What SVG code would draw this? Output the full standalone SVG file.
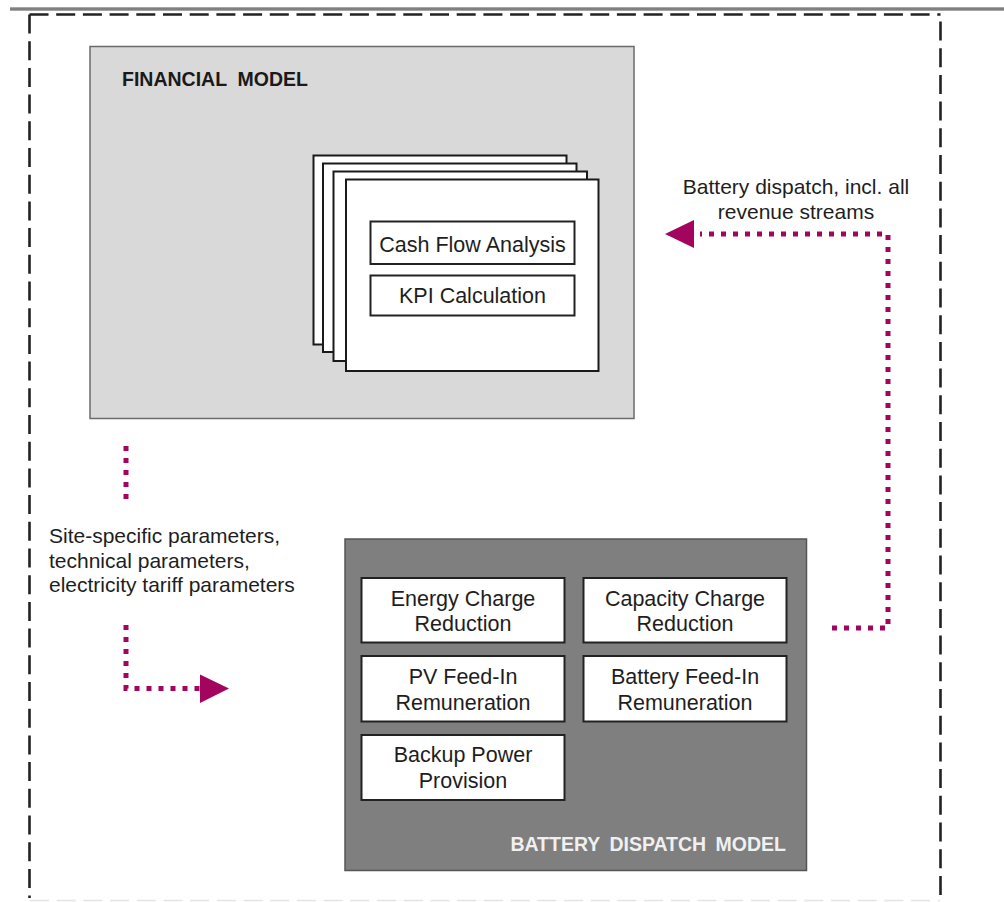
<svg xmlns="http://www.w3.org/2000/svg" width="1004" height="902" viewBox="0 0 1004 902">
  <style>
    .lbl { font-family: "Liberation Sans", Arial, sans-serif; font-size: 21px; fill: #1e1e1e; }
    .inner { font-size: 21.5px; }
    .mid { text-anchor: middle; }
    .title { font-family: "Liberation Sans", Arial, sans-serif; font-size: 19.5px; font-weight: bold; }
    .box { fill: #ffffff; stroke: #222222; stroke-width: 2; }
    .page { fill: #ffffff; stroke: #1a1a1a; stroke-width: 2; }
    .frame { stroke: #222222; stroke-width: 2.6; fill: none; stroke-dasharray: 19 7.7; }
    .flow { fill: none; stroke: #a3045e; stroke-width: 5; stroke-dasharray: 5 7; }
    .head { fill: #a3045e; }
  </style>

  <!-- header rule -->
  <rect x="10" y="7.3" width="994" height="3.4" fill="#808080"/>

  <!-- dashed outer frame -->
  <g id="frame">
    <path class="frame" d="M29.5,14.5 H940.5"/>
    <path class="frame" d="M29.5,14.5 V898"/>
    <path class="frame" d="M940.5,14.5 V898" style="stroke-dashoffset:-7"/>
    <path d="M30,900.5 H940" stroke="#e4e4e4" stroke-width="1.5" stroke-dasharray="19 7.7" fill="none"/>
  </g>

  <!-- financial model -->
  <g id="financial-model">
    <rect x="90" y="46.5" width="544" height="372" fill="#d9d9d9" stroke="#6b6b6b" stroke-width="1.5"/>
    <text class="title" x="122" y="86" fill="#1a1a1a" xml:space="preserve">FINANCIAL  MODEL</text>
  </g>

  <!-- stacked sheets -->
  <g id="sheets">
    <rect class="page" x="313.5" y="155.5" width="253" height="189"/>
    <rect class="page" x="323" y="163.5" width="253.5" height="188.5"/>
    <rect class="page" x="333.5" y="171.5" width="253.5" height="189.5"/>
    <rect class="page" x="346" y="179.5" width="252.5" height="191.5"/>
  </g>

  <g id="cash-flow-analysis">
    <rect class="box" x="370.5" y="221.5" width="204" height="42.5"/>
    <text class="lbl inner mid" x="472.5" y="251.5">Cash Flow Analysis</text>
  </g>

  <g id="kpi-calculation">
    <rect class="box" x="370.5" y="275.5" width="204" height="40"/>
    <text class="lbl inner mid" x="472.5" y="303">KPI Calculation</text>
  </g>

  <!-- battery dispatch model -->
  <g id="battery-dispatch-model">
    <rect x="345" y="539" width="461.5" height="331.5" fill="#7f7f7f" stroke="#555555" stroke-width="1.5"/>
    <text class="title" x="786" y="850.5" fill="#f0f0f0" text-anchor="end" word-spacing="4">BATTERY DISPATCH MODEL</text>
  </g>

  <g id="energy-charge-reduction">
    <rect class="box" x="361.5" y="578" width="203" height="64.5"/>
    <text class="lbl inner mid" x="463" y="606">Energy Charge</text>
    <text class="lbl inner mid" x="463" y="631">Reduction</text>
  </g>

  <g id="capacity-charge-reduction">
    <rect class="box" x="583.5" y="578" width="203" height="64.5"/>
    <text class="lbl inner mid" x="685" y="606">Capacity Charge</text>
    <text class="lbl inner mid" x="685" y="631">Reduction</text>
  </g>

  <g id="pv-feed-in-remuneration">
    <rect class="box" x="361.5" y="656" width="203" height="65.5"/>
    <text class="lbl inner mid" x="463" y="684">PV Feed-In</text>
    <text class="lbl inner mid" x="463" y="710">Remuneration</text>
  </g>

  <g id="battery-feed-in-remuneration">
    <rect class="box" x="583.5" y="656" width="203" height="65.5"/>
    <text class="lbl inner mid" x="685" y="684">Battery Feed-In</text>
    <text class="lbl inner mid" x="685" y="710">Remuneration</text>
  </g>

  <g id="backup-power-provision">
    <rect class="box" x="361.5" y="735" width="203" height="65"/>
    <text class="lbl inner mid" x="463" y="762">Backup Power</text>
    <text class="lbl inner mid" x="463" y="788">Provision</text>
  </g>

  <!-- connectors -->
  <g id="connectors">
    <!-- dispatch results back to the financial model -->
    <path class="flow" d="M832,628 H888 V234 H700"/>
    <polygon class="head" points="665,234 694,220 694,248"/>
    <text class="lbl mid" x="796" y="194">Battery dispatch, incl. all</text>
    <text class="lbl mid" x="796" y="218.5">revenue streams</text>

    <!-- parameters into the dispatch model -->
    <path class="flow" d="M126,446 V499"/>
    <path class="flow" d="M126,625 V688.5 H200"/>
    <polygon class="head" points="200,674.5 200,703 229,688.5"/>
    <text class="lbl" x="49" y="543">Site-specific parameters,</text>
    <text class="lbl" x="49" y="567.5">technical parameters,</text>
    <text class="lbl" x="49" y="592">electricity tariff parameters</text>
  </g>
</svg>
